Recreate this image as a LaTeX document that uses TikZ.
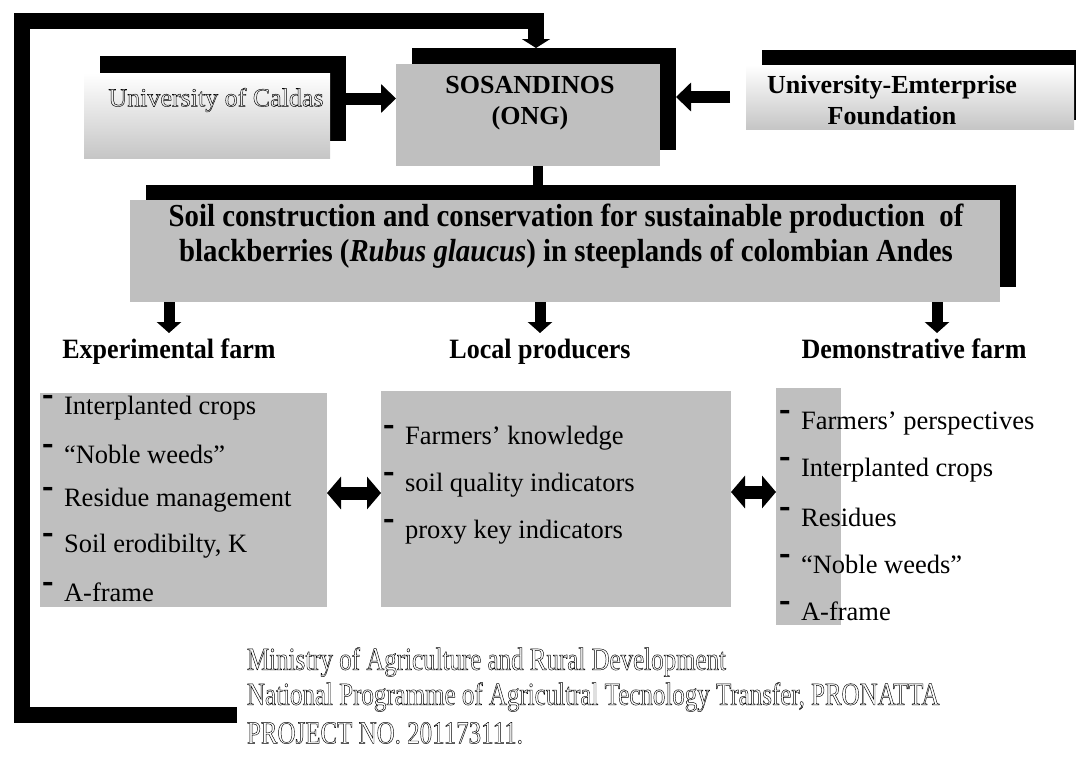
\documentclass[tikz,border=0pt]{standalone}
\usepackage{graphicx}
\usepackage{fontspec}
\setmainfont{Liberation Serif}
\newfontfamily\condfont[FakeStretch=0.9]{Liberation Serif}
\newfontfamily\labelfam[FakeStretch=0.93]{Liberation Serif}
\newfontfamily\narrowfont[FakeStretch=0.78]{Liberation Serif}
\usetikzlibrary{arrows.meta}
\newcommand{\itm}[1]{\raisebox{0.28em}{\scalebox{1.3}[1.5]{\bfseries -}}\hspace{0.4em}#1}
\newcommand{\hollow}[1]{\special{pdf:literal direct 1 Tr 0.45 w}#1\special{pdf:literal direct 0 Tr}}
\begin{document}
\begin{tikzpicture}[x=1pt,y=-1pt,
  plain/.style={inner sep=0pt, outer sep=0pt},
  graybox/.style={plain, fill=gray!50},
  gradbox/.style={plain, top color=white, bottom color=gray!45},
  shade box/.style={plain, fill=black},
  titlefont/.style={font=\bfseries\fontsize{26}{31}\selectfont, align=center, plain},
  listfont/.style={font=\fontsize{26.5}{30}\selectfont, anchor=west, plain},
  labelfont/.style={font=\labelfam\bfseries\fontsize{28}{32}\selectfont, plain, anchor=base},
  fundfont/.style={font=\narrowfont\fontsize{32}{36}\selectfont, text=black, plain, anchor=west},
  fat/.style={line width=12pt, -{Triangle[width=28pt,length=15pt]}},
  fatdouble/.style={line width=13pt, {Triangle[width=32pt,length=14pt]}-{Triangle[width=32pt,length=14pt]}},
  downarrow/.style={line width=11pt, -{Triangle[width=24pt,length=11pt]}},
  loopline/.style={line width=16pt, line join=miter, -{Triangle[width=28pt,length=9pt]}},
  linkline/.style={line width=10pt}
]
\useasboundingbox (0,0) rectangle (1076,758);

% ---- SOSANDINOS
\node[shade box, minimum width=264pt, minimum height=102pt] (sosS) at (544,99) {};
\node[graybox, minimum width=264pt, minimum height=102pt] (sos) at (528,115) {};
\node[titlefont] (sostxt) at (530,103) {SOSANDINOS\\(ONG)};

% ---- University of Caldas
\node[shade box, minimum width=246pt, minimum height=85pt] (caldasS) at (223,98.5) {};
\node[gradbox, minimum width=246pt, minimum height=85pt] (caldas) at (207,115.5) {};
\node[plain, font=\fontsize{26}{31}\selectfont, text=black] (caldastxt) at (216,100) {\hollow{University of Caldas}};

% ---- University-Emterprise Foundation
\node[shade box, minimum width=328pt, minimum height=70pt] (foundS) at (926,85) {};
\node[gradbox, minimum width=328pt, minimum height=64pt] (found) at (910,97) {};
\node[titlefont] (foundtxt) at (892,100.5) {University-Emterprise\\Foundation};

% ---- main project box
\node[shade box, minimum width=870pt, minimum height=102pt] (mainS) at (581,236) {};
\node[graybox, minimum width=870pt, minimum height=102pt] (main) at (565,251) {};
\node[plain, font=\condfont\bfseries\fontsize{32}{35}\selectfont, align=center] (maintxt) at (566,236)
  {Soil construction and conservation for sustainable production\ \ of\\blackberries (\textit{Rubus glaucus}) in steeplands of colombian Andes};

% ---- labels
\node[labelfont] (exp) at (169,358) {Experimental farm};
\node[labelfont] (loc) at (540,358) {Local producers};
\node[labelfont] (dem) at (914,358) {Demonstrative farm};

% ---- list boxes
\node[graybox, minimum width=287pt, minimum height=214pt] (left) at (183.5,500) {};
\node[graybox, minimum width=350pt, minimum height=216pt] (mid) at (556,499) {};
\node[graybox, minimum width=65pt, minimum height=237pt] (strip) at (808.5,506.5) {};

\node[listfont] (l1) at (42,408) {\itm{Interplanted crops}};
\node[listfont] (l2) at (42,454) {\itm{``Noble weeds''}};
\node[listfont] (l3) at (42,500) {\itm{Residue management}};
\node[listfont] (l4) at (42,546) {\itm{Soil erodibilty, K}};
\node[listfont] (l5) at (42,592) {\itm{A-frame}};

\node[listfont] (m1) at (383,438) {\itm{Farmers' knowledge}};
\node[listfont] (m2) at (383,485) {\itm{soil quality indicators}};
\node[listfont] (m3) at (383,532) {\itm{proxy key indicators}};

\node[listfont] (r1) at (779,423) {\itm{Farmers' perspectives}};
\node[listfont] (r2) at (779,470) {\itm{Interplanted crops}};
\node[listfont] (r3) at (779,517) {\itm{Residues}};
\node[listfont] (r4) at (779,564) {\itm{``Noble weeds''}};
\node[listfont] (r5) at (779,611) {\itm{A-frame}};

% ---- funding text
\node[fundfont] (min1) at (247,662) {\hollow{Ministry of Agriculture and Rural Development}};
\node[fundfont] (min2) at (247,697) {\hollow{National Programme of Agricultral Tecnology Transfer, PRONATTA}};
\node[fundfont] (min3) at (247,733) {\hollow{PROJECT NO. 201173111.}};

% ---- connectors
\coordinate (loopend) at (237,715);
\coordinate (loopc) at (536,21);
\draw[loopline] (loopend) -- (22,715) -- (22,21) -- (loopc) -- (loopc |- sosS.north);

\draw[fat] (caldasS.east) -- (caldasS.east -| sos.west);
\draw[fat] ([xshift=-16pt]found.west) -- (sosS.east |- found.west);
\draw[linkline] ([xshift=10pt]sos.south) -- ([xshift=10pt]sos.south |- mainS.north);

\draw[downarrow] (exp |- main.south) -- (exp |- 0,333);
\draw[downarrow] (loc |- main.south) -- (loc |- 0,333);
\draw[downarrow] ([xshift=23pt]dem |- main.south) -- ([xshift=23pt]dem |- 0,333);

\draw[fatdouble] ([yshift=7pt]left.east) -- ([yshift=7pt]left.east -| mid.west);
\draw[fatdouble] ([yshift=7pt]mid.east) -- ([yshift=7pt]mid.east -| strip.west);
\end{tikzpicture}
\end{document}
